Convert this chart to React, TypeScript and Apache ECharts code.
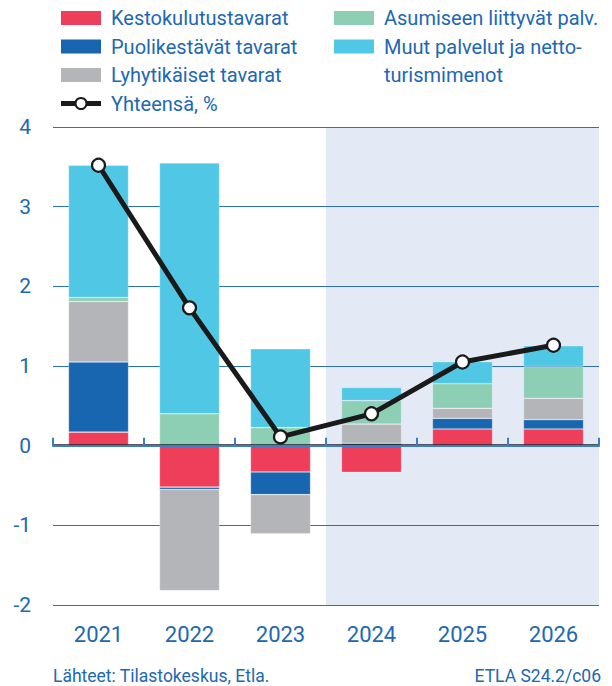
import React, { useEffect, useRef } from "react";
import * as echarts from "echarts";

const categories = ["2021", "2022", "2023", "2024", "2025", "2026"];
const kestokulutus = [0.17, -0.52, -0.33, -0.335, 0.21, 0.21];
const puolikestavat = [0.88, -0.03, -0.285, 0.03, 0.133, 0.116];
const lyhytikaiset = [0.76, -1.27, -0.49, 0.24, 0.125, 0.268];
const asumiseen = [0.05, 0.4, 0.226, 0.295, 0.31, 0.4];
const muut = [1.66, 3.15, 0.99, 0.165, 0.276, 0.26];
const yhteensa = [3.52, 1.73, 0.11, 0.4, 1.05, 1.26];
const forecastFrom = "2024";

const seriesNames = [
  "Kestokulutustavarat",
  "Puolikestävät tavarat",
  "Lyhytikäiset tavarat",
  "Asumiseen liittyvät palv.",
  "Muut palvelut ja netto-turismimenot",
];
const colors = ["#EE3E5A", "#1866B0", "#B4B5B9", "#8DCFB4", "#50C8E5"];
const TEXT = "#2068B2";
const GRID_BLUE = "#2E6FBD";
const FONT = "Roboto, sans-serif";

export default function App() {
  const ref = useRef<HTMLDivElement>(null);
  useEffect(() => {
    const chart = echarts.init(ref.current!, undefined, { renderer: "svg" });
    const values = [kestokulutus, puolikestavat, lyhytikaiset, asumiseen, muut];
    const bars = values.map((d, i) => ({
      name: seriesNames[i],
      type: "bar",
      stack: "total",
      data: d,
      barWidth: "66%",
      itemStyle: { color: colors[i], borderColor: "rgba(255,255,255,0.45)", borderWidth: 0.6 },
      z: 3,
    }));

    const legendRow = (i: number) => 18 + i * 28.5;
    const swatch = (x: number, row: number, color: string) => ({
      type: "rect",
      shape: { x, y: legendRow(row) - 7, width: 40, height: 14 },
      style: { fill: color },
    });
    const ltext = (x: number, row: number, text: string) => ({
      type: "text",
      x,
      y: legendRow(row),
      style: { text, fill: TEXT, font: `20px ${FONT}`, verticalAlign: "middle", align: "left" },
    });

    const legendGraphics: any[] = [
      swatch(61, 0, colors[0]),
      ltext(111, 0, "Kestokulutustavarat"),
      swatch(61, 1, colors[1]),
      ltext(111, 1, "Puolikestävät tavarat"),
      swatch(61, 2, colors[2]),
      ltext(111, 2, "Lyhytikäiset tavarat"),
      {
        type: "line",
        shape: { x1: 61, y1: legendRow(3), x2: 101, y2: legendRow(3) },
        style: { stroke: "#1a1a1a", lineWidth: 5 },
      },
      {
        type: "circle",
        shape: { cx: 81, cy: legendRow(3), r: 5.5 },
        style: { fill: "#fff", stroke: "#1a1a1a", lineWidth: 2 },
      },
      ltext(111, 3, "Yhteensä, %"),
      swatch(334, 0, colors[3]),
      ltext(384, 0, "Asumiseen liittyvät palv."),
      swatch(334, 1, colors[4]),
      ltext(384, 1, "Muut palvelut ja netto-"),
      ltext(384, 2, "turismimenot"),
      {
        type: "text",
        x: 53,
        y: 676,
        style: { text: "Lähteet: Tilastokeskus, Etla.", fill: TEXT, font: `17.5px ${FONT}`, verticalAlign: "middle" },
      },
      {
        type: "text",
        x: 601,
        y: 676,
        style: { text: "ETLA S24.2/c06", fill: TEXT, font: `17.5px ${FONT}`, verticalAlign: "middle", align: "right" },
      },
    ];

    const option: any = {
      animation: false,
      backgroundColor: "#fff",
      grid: { left: 53, right: 13, top: 127, bottom: 81, containLabel: false },
      xAxis: {
        type: "category",
        data: categories,
        axisLine: { show: true, lineStyle: { color: "#3D7CC9", width: 2 } },
        axisTick: { show: true, inside: true, length: 8, lineStyle: { color: "#3D7CC9", width: 2 } },
        axisLabel: { color: TEXT, fontSize: 22, fontFamily: FONT, margin: 18 },
        splitLine: { show: false },
        z: 5,
      },
      yAxis: {
        type: "value",
        min: -2,
        max: 4,
        interval: 1,
        axisLine: { show: false },
        axisTick: { show: false },
        axisLabel: { color: TEXT, fontSize: 21, fontFamily: FONT, margin: 22 },
        splitLine: { show: true, lineStyle: { color: GRID_BLUE, width: 1 } },
      },
      series: [
        ...bars,
        {
          name: "Yhteensä, %",
          type: "line",
          data: yhteensa,
          z: 10,
          symbol: "circle",
          symbolSize: 13,
          showSymbol: true,
          lineStyle: { color: "#1a1a1a", width: 5 },
          itemStyle: { color: "#fff", borderColor: "#1a1a1a", borderWidth: 2.2 },
          markLine: {
            silent: true,
            symbol: ["none", "none"],
            label: { show: false },
            lineStyle: { color: "#222", width: 2.5, type: "solid" },
            data: [{ yAxis: 0 }],
            z: 4,
          },
        },
      ],
      graphic: legendGraphics,
    };
    chart.setOption(option);

    const idx = categories.indexOf(forecastFrom);
    const xPrev = chart.convertToPixel({ xAxisIndex: 0 }, categories[idx - 1]) as number;
    const xCur = chart.convertToPixel({ xAxisIndex: 0 }, categories[idx]) as number;
    const xLast = chart.convertToPixel({ xAxisIndex: 0 }, categories[categories.length - 1]) as number;
    const band = xCur - xPrev;
    const x0 = (xPrev + xCur) / 2;
    const x1 = xLast + band / 2;
    const yTop = chart.convertToPixel({ yAxisIndex: 0 }, 4) as number;
    const yBot = chart.convertToPixel({ yAxisIndex: 0 }, -2) as number;
    chart.setOption({
      graphic: [
        ...legendGraphics,
        {
          type: "rect",
          z: -10,
          silent: true,
          shape: { x: x0, y: yTop, width: x1 - x0, height: yBot - yTop },
          style: { fill: "#E3EAF5" },
        },
      ],
    });

    return () => chart.dispose();
  }, []);
  return <div ref={ref} style={{ position: "fixed", left: 0, top: 0, width: 612, height: 686 }} />;
}
